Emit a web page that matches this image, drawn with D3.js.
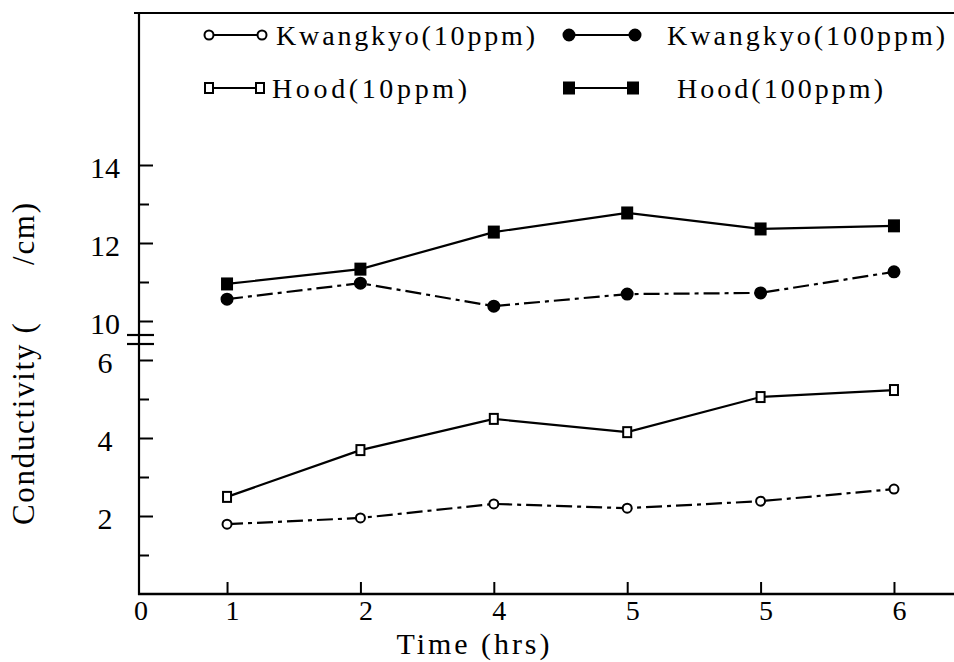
<!DOCTYPE html>
<html>
<head>
<meta charset="utf-8">
<script src="https://cdn.jsdelivr.net/npm/d3@7"></script>
<style>
  html, body { margin: 0; padding: 0; background: #fff; }
  svg { display: block; }
  text { font-family: "Liberation Serif", "Times New Roman", serif; fill: #000; }
</style>
</head>
<body>
<svg id="chart" width="954" height="662"></svg>
<script>
// Sampling times (category labels along the x axis)
const timeLabels = ["1", "2", "4", "5", "5", "6"];

// Conductivity readings per series
const kwangkyo10  = [1.79, 1.95, 2.31, 2.20, 2.38, 2.69];
const kwangkyo100 = [10.56, 10.97, 10.38, 10.69, 10.72, 11.26];
const hood10      = [2.49, 3.69, 4.49, 4.15, 5.05, 5.23];
const hood100     = [10.95, 11.33, 12.28, 12.77, 12.36, 12.44];

// Y tick values on each side of the axis break
const lowerMajor = [2, 4, 6];
const lowerMinor = [1, 3, 5];
const upperMajor = [10, 12, 14];
const upperMinor = [11, 13];

const series = [
  { name: "Kwangkyo(10ppm)",  values: kwangkyo10,  marker: "circle", filled: false, dash: "16,5,4,5" },
  { name: "Kwangkyo(100ppm)", values: kwangkyo100, marker: "circle", filled: true,  dash: "16,5,4,5" },
  { name: "Hood(10ppm)",      values: hood10,      marker: "square", filled: false, dash: null },
  { name: "Hood(100ppm)",     values: hood100,     marker: "square", filled: true,  dash: null }
];

const svg = d3.select("#chart");

const x0 = 139, yBase = 594, yTop = 13, xRight = 954;

// x: category index, with the origin sitting a fraction of a step left of the first category
const x = d3.scaleLinear().domain([-0.66, 5.45]).range([x0, xRight]);

// y: broken axis, 0–7 below the break and 10–14 above it
const yLow = d3.scaleLinear().domain([0, 7]).range([yBase, 321]);
const yHigh = d3.scaleLinear().domain([10, 14]).range([321, 165]);
const y = v => (v <= 7 ? yLow(v) : yHigh(v));

// Frame: top edge, left axis and bottom axis
svg.append("line").attr("x1", x0 - 5).attr("x2", xRight).attr("y1", yTop).attr("y2", yTop)
  .attr("stroke", "#000").attr("stroke-width", 2.2);
svg.append("line").attr("x1", x0).attr("x2", x0).attr("y1", yTop - 1).attr("y2", yBase + 1)
  .attr("stroke", "#000").attr("stroke-width", 2.2);
svg.append("line").attr("x1", x0 - 1).attr("x2", xRight).attr("y1", yBase).attr("y2", yBase)
  .attr("stroke", "#000").attr("stroke-width", 2.4);

// Y axes (ticks point inward)
function yAxis(scale, values, size, labelled) {
  const ax = d3.axisLeft(scale).tickValues(values).tickSize(-size).tickPadding(34)
    .tickFormat(labelled ? d3.format("d") : "");
  const g = svg.append("g").attr("transform", `translate(${x0},0)`).call(ax);
  g.select(".domain").remove();
  g.selectAll(".tick line").attr("stroke", "#000").attr("stroke-width", 2);
  g.selectAll(".tick text")
    .attr("text-anchor", "middle")
    .attr("font-size", 30)
    .attr("font-family", "Liberation Serif")
    .attr("dy", "0.42em");
  return g;
}
yAxis(yLow, lowerMajor, 14, true);
yAxis(yLow, lowerMinor, 10, false);
yAxis(yHigh, upperMajor, 14, true);
yAxis(yHigh, upperMinor, 10, false);

// Axis break marks
[335, 344].forEach(yy => {
  svg.append("line").attr("x1", 127).attr("x2", 154).attr("y1", yy).attr("y2", yy)
    .attr("stroke", "#000").attr("stroke-width", 2.2);
});

// X axis (ticks point upward)
const xg = svg.append("g").attr("transform", `translate(0,${yBase})`)
  .call(d3.axisBottom(x).tickValues(d3.range(timeLabels.length)).tickSize(-12).tickPadding(6)
    .tickFormat(i => timeLabels[i]));
xg.select(".domain").remove();
xg.selectAll(".tick line").attr("stroke", "#000").attr("stroke-width", 2);
xg.selectAll(".tick text")
  .attr("font-size", 28).attr("font-family", "Liberation Serif")
  .attr("dx", 5).attr("dy", "0.71em");
svg.append("text").attr("x", x0 + 2).attr("y", 620)
  .attr("text-anchor", "middle").attr("font-size", 28).text("0");

// Axis titles
svg.append("text").attr("x", 473).attr("y", 654).attr("text-anchor", "middle")
  .attr("font-size", 30).attr("textLength", 153).attr("lengthAdjust", "spacing")
  .text("Time (hrs)");
svg.append("text")
  .attr("transform", "translate(34,364) rotate(-90)")
  .attr("text-anchor", "middle").attr("font-size", 31)
  .style("white-space", "pre")
  .attr("textLength", 322).attr("lengthAdjust", "spacing")
  .text("Conductivity (      /cm)");

// Marker drawing
function drawMarker(g, s, cx, cy) {
  if (s.marker === "circle") {
    const r = s.filled ? 5.5 : 4.5;
    g.append("circle").attr("cx", cx).attr("cy", cy).attr("r", r)
      .attr("fill", s.filled ? "#000" : "#fff").attr("stroke", "#000").attr("stroke-width", 2);
  } else {
    const w = s.filled ? 10 : 8, h = s.filled ? 11 : 10;
    g.append("rect").attr("x", cx - w / 2).attr("y", cy - h / 2).attr("width", w).attr("height", h)
      .attr("fill", s.filled ? "#000" : "#fff").attr("stroke", "#000").attr("stroke-width", 2);
  }
}

// Series lines and markers
const line = d3.line().x((d, i) => x(i)).y(d => y(d));
series.forEach(s => {
  const g = svg.append("g");
  g.append("path").datum(s.values).attr("d", line)
    .attr("fill", "none").attr("stroke", "#000").attr("stroke-width", 2.2)
    .attr("stroke-dasharray", s.dash);
  s.values.forEach((v, i) => drawMarker(g, s, x(i), y(v)));
});

// Legend
const legendItems = [
  { s: series[0], x1: 209, x2: 262, ty: 45, tx: 276, tl: 259 },
  { s: series[1], x1: 569, x2: 635, ty: 45, tx: 667, tl: 278 },
  { s: series[2], x1: 209, x2: 260, ty: 98, tx: 272, tl: 195 },
  { s: series[3], x1: 569, x2: 633, ty: 98, tx: 677, tl: 206 }
];
legendItems.forEach(it => {
  const g = svg.append("g");
  const ly = it.ty - 10;
  g.append("line").attr("x1", it.x1).attr("x2", it.x2).attr("y1", ly).attr("y2", ly)
    .attr("stroke", "#000").attr("stroke-width", 2);
  drawMarker(g, it.s, it.x1, ly);
  drawMarker(g, it.s, it.x2, ly);
  g.append("text").attr("x", it.tx).attr("y", it.ty).attr("font-size", 28)
    .attr("textLength", it.tl).attr("lengthAdjust", "spacing").text(it.s.name);
});
</script>
</body>
</html>
